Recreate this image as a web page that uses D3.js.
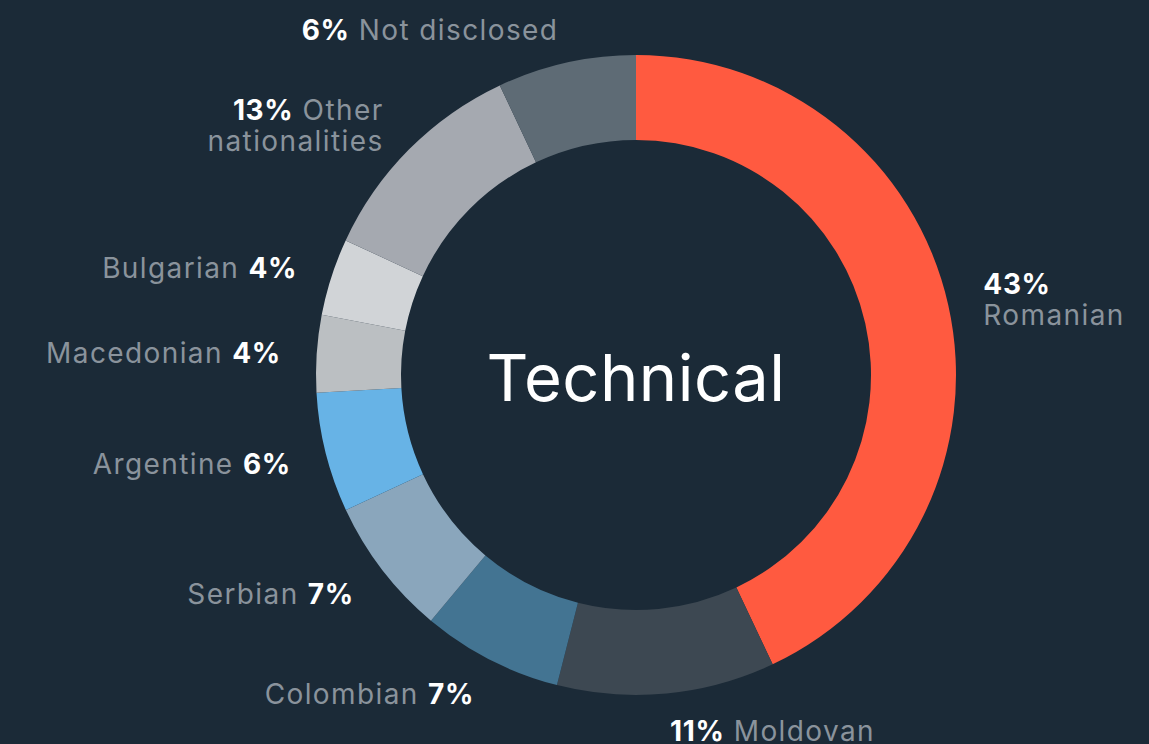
<!DOCTYPE html>
<html>
<head>
<meta charset="utf-8">
<script src="https://cdn.jsdelivr.net/npm/d3@7"></script>
<style>
  html, body { margin: 0; padding: 0; background: #1b2a37; }
  svg { display: block; }
  .label { font-family: Inter, 'Open Sans', sans-serif; font-size: 28px; letter-spacing: 1.4px; }
  .label .name { fill: #8a939c; font-weight: 400; }
  .label .pct { fill: #ffffff; font-weight: 700; letter-spacing: 0.6px; }
  .center-title { font-family: Inter, 'Open Sans', sans-serif; font-size: 65px; fill: #ffffff; letter-spacing: 0.5px; }
</style>
</head>
<body>
<div id="chart"></div>
<script>
// Data
const names = ['Romanian', 'Moldovan', 'Colombian', 'Serbian', 'Argentine', 'Macedonian', 'Bulgarian', 'Other nationalities', 'Not disclosed']
const percents = [43, 11, 7, 7, 6, 4, 4, 13, 6]
// slice sizes (labels are rounded)
const shares = [43, 11, 7.1, 7, 6.05, 3.9, 3.9, 11.1, 7]
// label templates: {p} = percent, \n = line break
const labelTemplates = ['{p}\nRomanian', '{p} Moldovan', 'Colombian {p}', 'Serbian {p}', 'Argentine {p}',
  'Macedonian {p}', 'Bulgarian {p}', '{p} Other\nnationalities', '{p} Not disclosed']
const colors = ['#ff5a40', '#3d4852', '#437492', '#8aa6bc', '#67b3e6', '#bbbfc2', '#d1d4d7', '#a5a9b0', '#5e6b75']
const title = 'Technical'

// Dimensions
const width = 1149
const height = 744
const cx = 636
const cy = 375
const outerRadius = 320
const innerRadius = 235
const labelRadius = 356
const lineHeight = 31

const svg = d3.select('#chart')
  .append('svg')
  .attr('width', width)
  .attr('height', height)

const g = svg.append('g')
  .attr('transform', `translate(${cx}, ${cy})`)

const slices = names.map((name, i) => ({ name, pct: percents[i], share: shares[i], template: labelTemplates[i], color: colors[i] }))

const pie = d3.pie()
  .sort(null)
  .value(d => d.share)

const arc = d3.arc()
  .innerRadius(innerRadius)
  .outerRadius(outerRadius)

const labelArc = d3.arc()
  .innerRadius(labelRadius)
  .outerRadius(labelRadius)

const arcs = pie(slices)

// Slices
g.selectAll('path.slice')
  .data(arcs)
  .enter()
  .append('path')
  .attr('class', 'slice')
  .attr('fill', d => d.data.color)
  .attr('d', arc)

// Labels
g.selectAll('text.label')
  .data(arcs)
  .enter()
  .append('text')
  .attr('class', 'label')
  .each(function (d) {
    const [x, y] = labelArc.centroid(d)
    const mid = (d.startAngle + d.endAngle) / 2
    const anchor = mid < Math.PI ? 'start' : 'end'
    const lines = d.data.template.split('\n')
    const text = d3.select(this)
      .attr('text-anchor', anchor)
    // vertical centering of the block
    const y0 = y - (lines.length - 1) * lineHeight / 2 + 12
    lines.forEach((line, li) => {
      const tl = text.append('tspan')
        .attr('x', x)
        .attr('y', y0 + li * lineHeight)
      const parts = line.split(/(\{p\})/).filter(s => s.length)
      parts.forEach(part => {
        if (part === '{p}') {
          tl.append('tspan').attr('class', 'pct').text(d.data.pct + '%')
        } else {
          tl.append('tspan').attr('class', 'name').text(part)
        }
      })
    })
  })

// Center title
g.append('text')
  .attr('class', 'center-title')
  .attr('text-anchor', 'middle')
  .attr('y', 26)
  .text(title)
</script>
</body>
</html>
